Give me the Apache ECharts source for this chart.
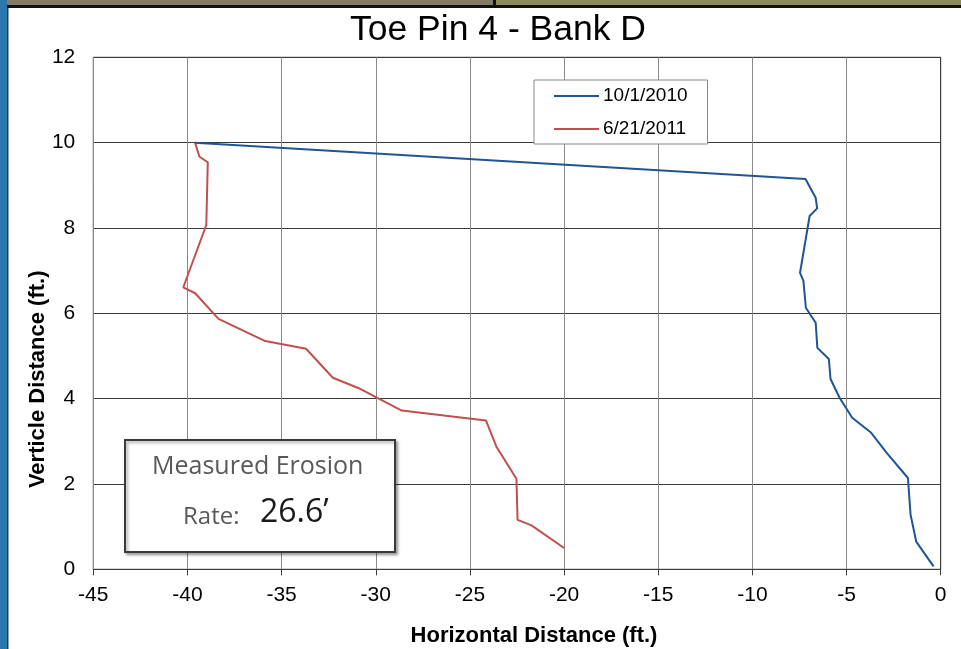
<!DOCTYPE html>
<html>
<head>
<meta charset="utf-8">
<script src="https://cdn.jsdelivr.net/npm/echarts@6/dist/echarts.min.js"></script>
<style>
html,body{margin:0;padding:0;background:#fff;}
#chart{width:961px;height:649px;}
</style>
</head>
<body>
<div id="chart"></div>
<script>
// ---- data ----
const chartTitle = 'Toe Pin 4 - Bank D';
const xAxisTitle = 'Horizontal Distance (ft.)';
const yAxisTitle = 'Verticle Distance (ft.)';
const seriesNames = ['10/1/2010', '6/21/2011'];

const blueX = [-39.6, -7.18, -6.64, -6.56, -6.96, -7.47, -7.29, -7.16, -6.64, -6.55, -5.94, -5.85, -5.37, -4.70, -3.69, -2.89, -1.74, -1.60, -1.30, -0.38];
const blueY = [10.0, 9.15, 8.71, 8.46, 8.28, 6.95, 6.76, 6.13, 5.78, 5.19, 4.93, 4.46, 4.02, 3.55, 3.20, 2.74, 2.14, 1.28, 0.65, 0.07];

const redX = [-39.6, -39.36, -38.92, -39.0, -40.22, -39.59, -38.35, -35.87, -33.70, -32.28, -30.93, -28.62, -24.15, -23.6, -22.53, -22.47, -21.73, -20.0];
const redY = [10.0, 9.67, 9.54, 8.07, 6.61, 6.47, 5.87, 5.35, 5.17, 4.49, 4.25, 3.72, 3.49, 2.88, 2.12, 1.16, 1.03, 0.5];

const xMin = -45, xMax = 0, xStep = 5;
const yMin = 0, yMax = 12, yStep = 2;

const noteLine1 = 'Measured Erosion';
const noteLabel = 'Rate:';
const noteValue = '26.6\u2019';

// ---- build ----
const zip = (xs, ys) => xs.map((x, i) => [x, ys[i]]);
const chart = echarts.init(document.getElementById('chart'), null, {renderer: 'canvas'});
const FONT = '"Liberation Sans", Arial, sans-serif';

chart.setOption({
  backgroundColor: '#ffffff',
  animation: false,
  title: {
    text: chartTitle,
    left: 350, top: 12, padding: 0,
    textStyle: {fontFamily: FONT, fontSize: 35.5, fontWeight: 'normal', color: '#000'}
  },
  legend: {
    left: 534, top: 80,
    orient: 'vertical',
    padding: [6, 20, 5, 20],
    icon: 'rect',
    itemWidth: 45, itemHeight: 2, itemGap: 13,
    backgroundColor: '#fff',
    borderColor: '#888', borderWidth: 1,
    textStyle: {fontFamily: FONT, fontSize: 19, color: '#000', lineHeight: 20, padding: [0,0,0,-1]},
    data: seriesNames
  },
  grid: {
    left: 93.3, right: 20.3, top: 57.3, bottom: 79.7,
    containLabel: false, outerBoundsMode: 'none',
    show: true, borderColor: '#3c3c3c', borderWidth: 1
  },
  xAxis: {
    type: 'value', min: xMin, max: xMax, interval: xStep,
    name: xAxisTitle, nameLocation: 'middle', nameGap: 56, nameMoveOverlap: false,
    nameTextStyle: {fontFamily: FONT, fontSize: 22, fontWeight: 'bold', color: '#000', padding: [0,0,0,34]},
    axisLine: {show: true, lineStyle: {color: '#3c3c3c', width: 1}},
    axisTick: {show: true, length: 6, lineStyle: {color: '#3c3c3c'}},
    axisLabel: {fontFamily: FONT, fontSize: 21, color: '#000', margin: 15},
    splitLine: {show: true, lineStyle: {color: '#8a8a8a', width: 1}}
  },
  yAxis: {
    type: 'value', min: yMin, max: yMax, interval: yStep,
    name: yAxisTitle, nameLocation: 'middle', nameGap: 44, nameMoveOverlap: false,
    nameTextStyle: {fontFamily: FONT, fontSize: 22, fontWeight: 'bold', color: '#000', padding: [0,132,0,0]},
    axisLine: {show: true, lineStyle: {color: '#3c3c3c', width: 1}},
    axisTick: {show: true, length: 5, lineStyle: {color: '#3c3c3c'}},
    axisLabel: {fontFamily: FONT, fontSize: 21, color: '#000', margin: 18},
    splitLine: {show: true, lineStyle: {color: '#3a3a3a', width: 1}}
  },
  series: [
    {
      name: seriesNames[0], type: 'line', symbol: 'none', z: 3,
      lineStyle: {color: '#1f5496', width: 2},
      itemStyle: {color: '#1f5496'},
      data: zip(blueX, blueY)
    },
    {
      name: seriesNames[1], type: 'line', symbol: 'none', z: 2,
      lineStyle: {color: '#c0504d', width: 2},
      itemStyle: {color: '#c0504d'},
      data: zip(redX, redY)
    }
  ],
  graphic: [
    // decorative slide frame
    {type: 'rect', left: 0, top: 0, shape: {width: 493, height: 6}, style: {fill: '#857a66'}, z: 100},
    {type: 'rect', left: 496, top: 0, shape: {width: 465, height: 6}, style: {fill: '#8c8c5e'}, z: 100},
    {type: 'rect', left: 493, top: 0, shape: {width: 3, height: 6}, style: {fill: '#111'}, z: 101},
    {type: 'rect', left: 0, top: 5, shape: {width: 961, height: 3}, style: {fill: '#111'}, z: 101},
    {type: 'rect', left: 0, top: 0, shape: {width: 7, height: 649}, style: {fill: '#2c78ad'}, z: 102},
    {type: 'rect', left: 7, top: 8, shape: {width: 1.5, height: 641}, style: {fill: '#1d3f5e'}, z: 102},
    // annotation box
    {
      type: 'rect', left: 124, top: 439, z: 50,
      shape: {width: 270, height: 112},
      style: {fill: '#fff', stroke: '#3a3a3a', lineWidth: 2,
              shadowColor: 'rgba(0,0,0,0.35)', shadowBlur: 3, shadowOffsetX: 2, shadowOffsetY: 2}
    },
    {
      type: 'text', left: 152, top: 454, z: 51,
      style: {text: noteLine1, font: '25px "Open Sans", sans-serif', fill: '#595959'}
    },
    {
      type: 'text', left: 183, top: 505, z: 51,
      style: {text: noteLabel, font: '24px "Open Sans", sans-serif', fill: '#595959'}
    },
    {
      type: 'text', left: 260, top: 497, z: 51,
      style: {text: noteValue, font: '32px "Open Sans", sans-serif', fill: '#1a1a1a'}
    }
  ]
});
</script>
</body>
</html>
